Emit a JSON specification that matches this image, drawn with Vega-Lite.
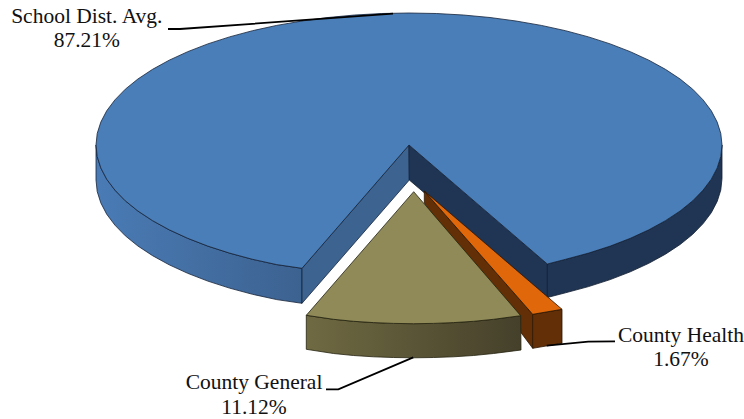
{"$schema":"https://vega.github.io/schema/vega-lite/v6.json","width":744,"height":419,"padding":0,"autosize":{"type":"fit","contains":"padding"},"background":"white","view":{"stroke":null},
"datasets":{
"slices":[{"name":"School Dist. Avg.","share":0.8721,"lx":86.8,"ny":22.7,"sy":47.3},{"name":"County General","share":0.1112,"lx":254,"ny":389.3,"sy":414},{"name":"County Health","share":0.0167,"lx":681,"ny":341.7,"sy":366}],
"leftWall":[{"x":96,"y":145},{"x":97.2,"y":156.5},{"x":100.8,"y":167.9},{"x":106.7,"y":179.2},{"x":114.9,"y":190.1},{"x":125.3,"y":200.8},{"x":137.9,"y":211},{"x":152.6,"y":220.7},{"x":169.2,"y":229.8},{"x":187.7,"y":238.3},{"x":207.8,"y":246.1},{"x":229.5,"y":253.1},{"x":252.5,"y":259.3},{"x":276.7,"y":264.6},{"x":302,"y":268.3},{"x":302,"y":303.3},{"x":276.7,"y":299.6},{"x":252.5,"y":294.3},{"x":229.5,"y":288.1},{"x":207.8,"y":281.1},{"x":187.7,"y":273.3},{"x":169.2,"y":264.8},{"x":152.6,"y":255.7},{"x":137.9,"y":246},{"x":125.3,"y":235.8},{"x":114.9,"y":225.1},{"x":106.7,"y":214.2},{"x":100.8,"y":202.9},{"x":97.2,"y":191.5},{"x":96,"y":180},{"x":96,"y":145}],
"rightWall":[{"x":722,"y":145},{"x":720.8,"y":156.5},{"x":717.2,"y":167.9},{"x":711.3,"y":179.2},{"x":703.1,"y":190.1},{"x":692.7,"y":200.8},{"x":680.1,"y":211},{"x":665.4,"y":220.7},{"x":648.8,"y":229.8},{"x":630.3,"y":238.3},{"x":610.2,"y":246.1},{"x":588.5,"y":253.1},{"x":565.5,"y":259.3},{"x":547.3,"y":264},{"x":547.3,"y":297.5},{"x":565.5,"y":292.8},{"x":588.5,"y":286.6},{"x":610.2,"y":279.6},{"x":630.3,"y":271.8},{"x":648.8,"y":263.3},{"x":665.4,"y":254.2},{"x":680.1,"y":244.5},{"x":692.7,"y":234.3},{"x":703.1,"y":223.6},{"x":711.3,"y":212.7},{"x":717.2,"y":201.4},{"x":720.8,"y":190},{"x":722,"y":178.5},{"x":722,"y":145}],
"leftFace":[{"x":409,"y":145},{"x":302,"y":268.3},{"x":302,"y":303.3},{"x":409.3,"y":180},{"x":409,"y":145}],
"rightFace":[{"x":409,"y":145},{"x":547.3,"y":264},{"x":547.3,"y":297.5},{"x":409.3,"y":180},{"x":409,"y":145}],
"schoolTop":[{"x":409,"y":145},{"x":547.3,"y":264},{"x":565.5,"y":259.3},{"x":588.5,"y":253.1},{"x":610.2,"y":246.1},{"x":630.3,"y":238.3},{"x":648.8,"y":229.8},{"x":665.4,"y":220.7},{"x":680.1,"y":211},{"x":692.7,"y":200.8},{"x":703.1,"y":190.1},{"x":711.3,"y":179.2},{"x":717.2,"y":167.9},{"x":720.8,"y":156.5},{"x":722,"y":145},{"x":720.8,"y":133.5},{"x":717.2,"y":122.1},{"x":711.3,"y":110.8},{"x":703.1,"y":99.9},{"x":692.7,"y":89.2},{"x":680.1,"y":79},{"x":665.4,"y":69.3},{"x":648.8,"y":60.2},{"x":630.3,"y":51.7},{"x":610.2,"y":43.9},{"x":588.5,"y":36.9},{"x":565.5,"y":30.7},{"x":541.3,"y":25.4},{"x":516,"y":21},{"x":490,"y":17.5},{"x":463.3,"y":15},{"x":436.3,"y":13.5},{"x":409,"y":13},{"x":381.7,"y":13.5},{"x":354.7,"y":15},{"x":328,"y":17.5},{"x":302,"y":21},{"x":276.7,"y":25.4},{"x":252.5,"y":30.7},{"x":229.5,"y":36.9},{"x":207.8,"y":43.9},{"x":187.7,"y":51.7},{"x":169.2,"y":60.2},{"x":152.6,"y":69.3},{"x":137.9,"y":79},{"x":125.3,"y":89.2},{"x":114.9,"y":99.9},{"x":106.7,"y":110.8},{"x":100.8,"y":122.1},{"x":97.2,"y":133.5},{"x":96,"y":145},{"x":97.2,"y":156.5},{"x":100.8,"y":167.9},{"x":106.7,"y":179.2},{"x":114.9,"y":190.1},{"x":125.3,"y":200.8},{"x":137.9,"y":211},{"x":152.6,"y":220.7},{"x":169.2,"y":229.8},{"x":187.7,"y":238.3},{"x":207.8,"y":246.1},{"x":229.5,"y":253.1},{"x":252.5,"y":259.3},{"x":276.7,"y":264.6},{"x":302,"y":268.3},{"x":409,"y":145}],
"healthSide":[{"x":424.3,"y":191},{"x":532.7,"y":314.3},{"x":532.7,"y":348.3},{"x":424.3,"y":203},{"x":424.3,"y":191}],
"healthFront":[{"x":532.7,"y":314.3},{"x":562,"y":309.3},{"x":562,"y":343.3},{"x":532.7,"y":348.3},{"x":532.7,"y":314.3}],
"healthTop":[{"x":424.3,"y":191},{"x":562,"y":309.3},{"x":532.7,"y":314.3},{"x":424.3,"y":191}],
"generalWall":[{"x":306.3,"y":315.3},{"x":333.5,"y":319.3},{"x":353.5,"y":321.3},{"x":373.5,"y":322.6},{"x":393.5,"y":323.4},{"x":413.5,"y":323.7},{"x":433.5,"y":323.4},{"x":453.5,"y":322.6},{"x":473.5,"y":321.3},{"x":493.5,"y":319.3},{"x":520.7,"y":315.7},{"x":521,"y":350},{"x":493.5,"y":353.5},{"x":473.5,"y":355.5},{"x":453.5,"y":356.8},{"x":433.5,"y":357.5},{"x":413.5,"y":357.8},{"x":393.5,"y":357.5},{"x":373.5,"y":356.8},{"x":353.5,"y":355.5},{"x":333.5,"y":353.5},{"x":306.3,"y":349.3},{"x":306.3,"y":315.3}],
"generalTop":[{"x":413.7,"y":191.7},{"x":520.7,"y":315.7},{"x":493.5,"y":319.3},{"x":473.5,"y":321.3},{"x":453.5,"y":322.6},{"x":433.5,"y":323.4},{"x":413.5,"y":323.7},{"x":393.5,"y":323.4},{"x":373.5,"y":322.6},{"x":353.5,"y":321.3},{"x":333.5,"y":319.3},{"x":306.3,"y":315.3},{"x":413.7,"y":191.7}],
"leader1":[{"x":168,"y":29},{"x":180,"y":29},{"x":393,"y":13.7}],
"leader2":[{"x":326,"y":389.3},{"x":338.3,"y":389.3},{"x":413.3,"y":357.3}],
"leader3":[{"x":615,"y":341.3},{"x":588.3,"y":341.7},{"x":546.7,"y":345.7}]
},
"encoding":{"x":{"field":"x","type":"quantitative","axis":null,"scale":{"domain":[0,744],"nice":false,"zero":false}},"y":{"field":"y","type":"quantitative","axis":null,"scale":{"domain":[419,0],"nice":false,"zero":false}},"order":{"value":null}},
"layer":[
{"data":{"name":"leftWall"},"mark":{"type":"line","fill":{"gradient":"linear","x1":0,"x2":1,"y1":0,"y2":0,"stops":[{"offset":0,"color":"#4a7bb5"},{"offset":1,"color":"#3c6290"}]},"stroke":"#15233a","strokeWidth":0.8}},
{"data":{"name":"rightWall"},"mark":{"type":"line","fill":"#1f3553","stroke":"#111d30","strokeWidth":0.8}},
{"data":{"name":"leftFace"},"mark":{"type":"line","fill":"#3d6391","stroke":"#15233a","strokeWidth":0.8}},
{"data":{"name":"rightFace"},"mark":{"type":"line","fill":"#1f3553","stroke":"#111d30","strokeWidth":0.8}},
{"data":{"name":"schoolTop"},"mark":{"type":"line","fill":"#4a7eb8","stroke":"#15233a","strokeWidth":0.8}},
{"data":{"name":"healthSide"},"mark":{"type":"line","fill":"#632f06","stroke":"#2b1503","strokeWidth":0.8}},
{"data":{"name":"healthFront"},"mark":{"type":"line","fill":"#632f06","stroke":"#2b1503","strokeWidth":0.8}},
{"data":{"name":"healthTop"},"mark":{"type":"line","fill":"#e0670a","stroke":"#2b1503","strokeWidth":0.8}},
{"data":{"name":"generalWall"},"mark":{"type":"line","fill":{"gradient":"linear","x1":0,"x2":1,"y1":0,"y2":0,"stops":[{"offset":0,"color":"#6f6a42"},{"offset":1,"color":"#45402a"}]},"stroke":"#24220f","strokeWidth":0.8}},
{"data":{"name":"generalTop"},"mark":{"type":"line","fill":"#8f8a58","stroke":"#24220f","strokeWidth":0.8}},
{"data":{"name":"leader1"},"mark":{"type":"line","color":"black","strokeWidth":1.8}},
{"data":{"name":"leader2"},"mark":{"type":"line","color":"black","strokeWidth":1.8}},
{"data":{"name":"leader3"},"mark":{"type":"line","color":"black","strokeWidth":1.8}},
{"data":{"name":"slices"},"mark":{"type":"text","font":"Liberation Serif","fontSize":21.5,"color":"#111","align":"center","baseline":"alphabetic"},"encoding":{"x":{"field":"lx","type":"quantitative"},"y":{"field":"ny","type":"quantitative"},"text":{"field":"name"},"order":null}},
{"data":{"name":"slices"},"mark":{"type":"text","font":"Liberation Serif","fontSize":21.5,"color":"#111","align":"center","baseline":"alphabetic"},"encoding":{"x":{"field":"lx","type":"quantitative"},"y":{"field":"sy","type":"quantitative"},"text":{"field":"share","type":"quantitative","format":".2%"},"order":null}}
]}
